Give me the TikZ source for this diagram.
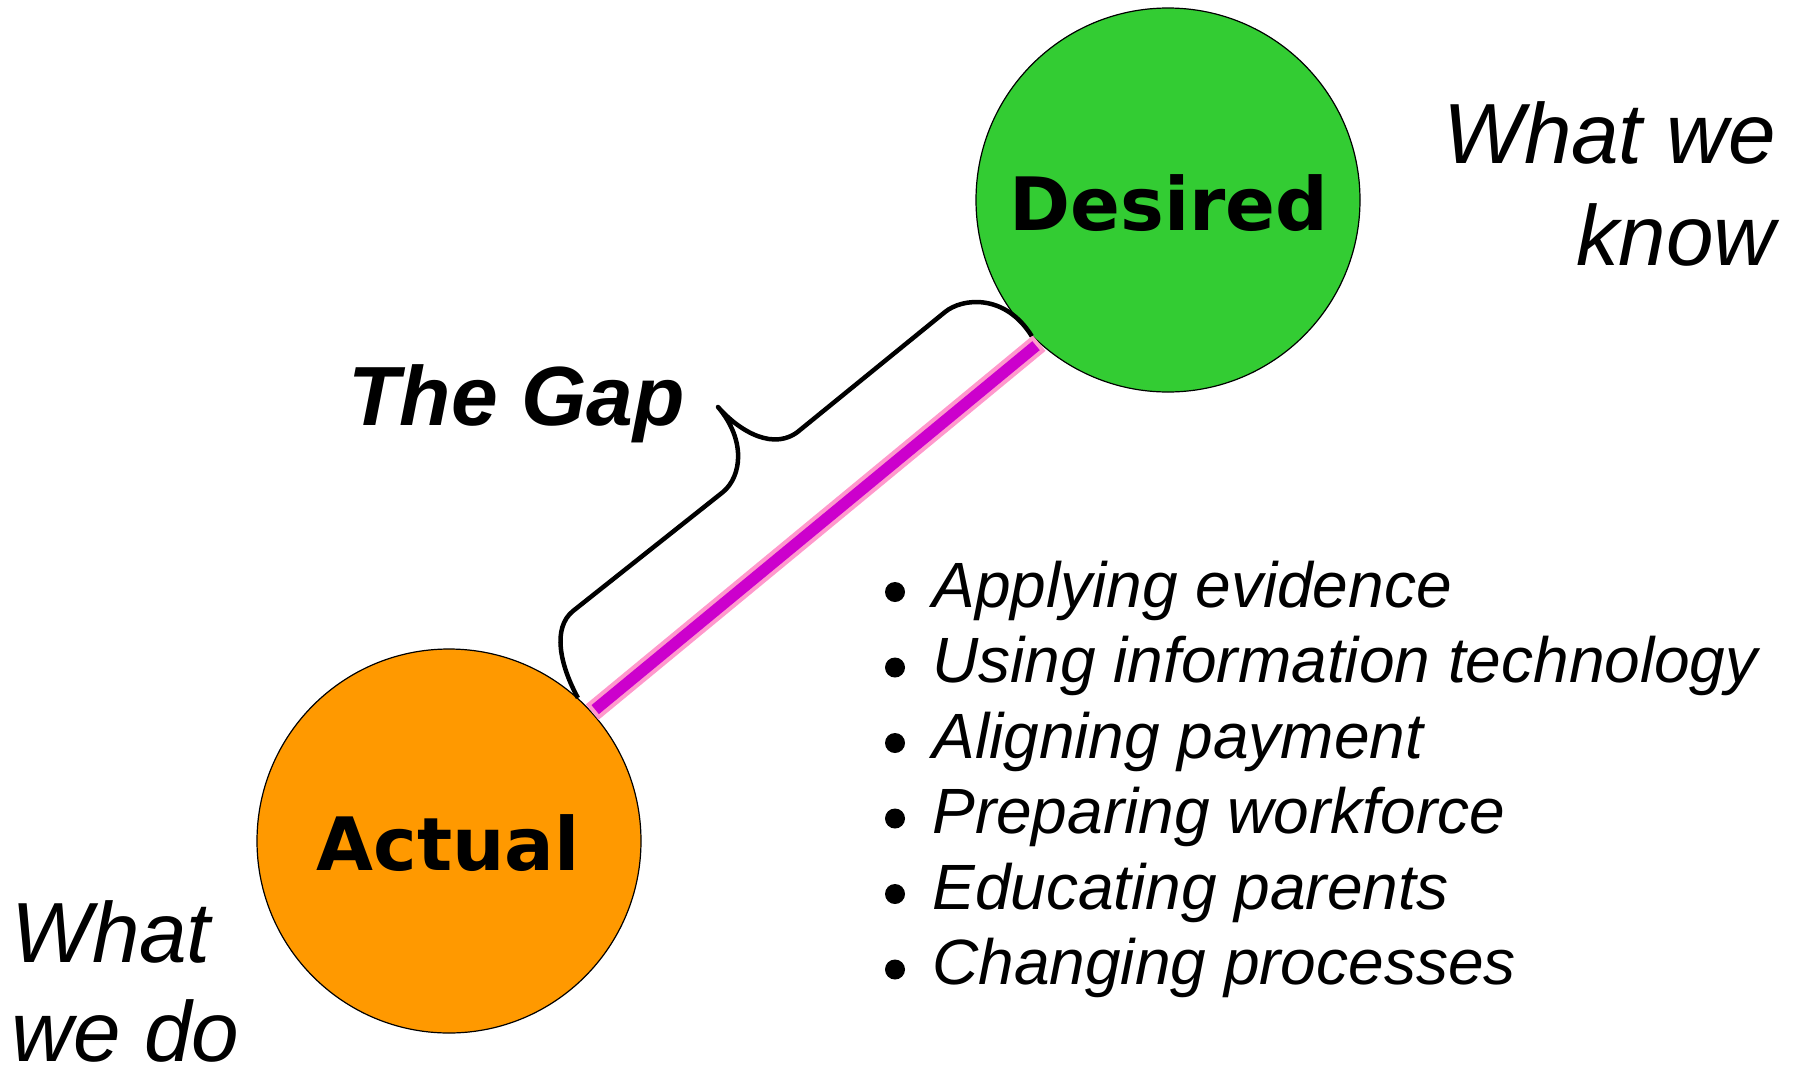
\documentclass[tikz,border=0pt]{standalone}
\usepackage{fontspec}
\newfontfamily\lib{Liberation Sans}
\newfontfamily\dvs{DejaVu Sans}
\definecolor{dgreen}{HTML}{33CC33}
\definecolor{aorange}{HTML}{FF9900}
\definecolor{gapmag}{HTML}{CC00CC}
\definecolor{gappink}{HTML}{FF99CC}
\begin{document}
\begin{tikzpicture}[x=0.5pt,y=-0.5pt,
  state/.style={circle,draw=black,line width=0.6pt,minimum size=192pt,inner sep=0pt},
  statelabel/.style={font=\dvs\bfseries\fontsize{36.8}{40}\selectfont,inner sep=0pt,anchor=base},
  sidetext/.style={font=\lib\itshape\fontsize{42.7}{50}\selectfont,inner sep=0pt,text depth=0pt},
  gaplabel/.style={font=\lib\bfseries\itshape\fontsize{42}{50}\selectfont,inner sep=0pt,anchor=base west},
  itemtext/.style={font=\lib\itshape\fontsize{32}{37}\selectfont,inner sep=0pt,anchor=base west},
  bracestroke/.style={line width=2.25pt,line cap=butt,line join=round},
  gapouter/.style={gappink,line width=10pt},
  gapinner/.style={gapmag,line width=5.8pt,shorten <=2pt,shorten >=2pt}
]
\useasboundingbox (0,0) rectangle (1793,1071);

% circles
\node[state,fill=dgreen] (D) at (1168,200) {};
\node[state,fill=aorange] (A) at (449,841) {};
\node[statelabel] (Dl) at (1169,230) {Desired};
\node[statelabel] (Al) at (448,870) {Actual};

% the gap line
\draw[gapouter] (A.42) -- (D.228);
\draw[gapinner] (A.42) -- (D.228);

% brace
\draw[bracestroke] (A.48) .. controls (560,665) and (552,628) .. (573,611)
  -- (723,492) .. controls (742,476) and (746,440) .. (718,407)
  .. controls (740,432) and (775,452) .. (800,430)
  -- (945,312) .. controls (962,298) and (1005,293) .. (D.225);

\node[gaplabel] (gap) at (348,425) {The Gap};

% side texts
\node[sidetext,anchor=base east] (know1) at (1776,163) {What we};
\node[sidetext,anchor=base east] (know2) at (1776,265) {know};
\node[sidetext,anchor=base west] (do1) at (11,962) {What};
\node[sidetext,anchor=base west] (do2) at (11,1061) {we do};

% bullet list
\fill (895,592) circle (5pt);
\node[itemtext] (it1) at (932,607) {Applying evidence};
\fill (895,667.5) circle (5pt);
\node[itemtext] (it2) at (932,682.5) {Using information technology};
\fill (895,743) circle (5pt);
\node[itemtext] (it3) at (932,758) {Aligning payment};
\fill (895,818.5) circle (5pt);
\node[itemtext] (it4) at (932,833.5) {Preparing workforce};
\fill (895,894) circle (5pt);
\node[itemtext] (it5) at (932,909) {Educating parents};
\fill (895,969.5) circle (5pt);
\node[itemtext] (it6) at (932,984.5) {Changing processes};
\end{tikzpicture}
\end{document}
